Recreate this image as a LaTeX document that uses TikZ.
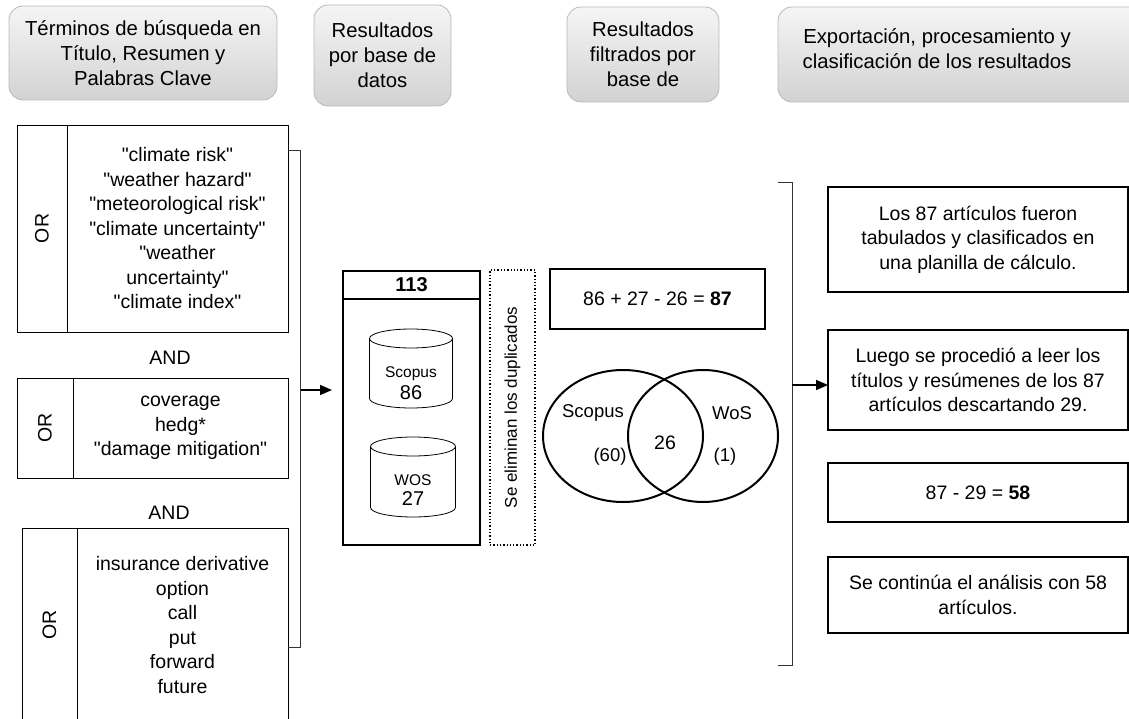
\documentclass[tikz,border=0pt]{standalone}
\usepackage{fontspec}
\usepackage{graphicx}
\setmainfont{Liberation Sans}
\usetikzlibrary{arrows.meta,shapes.geometric}
\newcommand\qq{\textquotedbl}
\begin{document}
\begin{tikzpicture}[x=1pt,y=1pt,
  base/.style={font=\fontsize{19.5}{24.5}\selectfont, align=center, inner sep=0pt, outer sep=0pt},
  header/.style={base, font=\fontsize{20.3}{25}\selectfont, draw=gray!55, rounded corners=14pt, top color=gray!8, bottom color=gray!35, line width=0.8pt},
  thinbox/.style={base, draw=black, line width=0.8pt},
  rbox/.style={base, draw=black, line width=1.3pt, minimum width=300},
  bracketline/.style={draw=black!80, line width=0.9pt},
  arr/.style={line width=1.6pt, -{Triangle[length=12pt,width=10pt]}},
  small/.style={base, font=\fontsize{15.5}{17}\selectfont},
  big/.style={base, font=\fontsize{20}{22}\selectfont},
  venntext/.style={base, font=\fontsize{18.5}{20}\selectfont}
]
\useasboundingbox (0,0) rectangle (1129,-719);
\clip (0,0) rectangle (1129,-719);

% headers
\node[header, minimum width=268, minimum height=94] (h1) at (143,-53) {Términos de búsqueda en\\Título, Resumen y\\Palabras Clave};
\node[header, minimum width=137, minimum height=101] (h2) at (382.5,-55.5) {Resultados\\por base de\\datos};
\node[header, minimum width=152, minimum height=95] (h3) at (643,-54.5) {Resultados\\filtrados por\\base de};
\node[header, minimum width=390, minimum height=95, anchor=west] (h4) at (778,-54.5) {};
\node[base, font=\fontsize{20.3}{25}\selectfont] (h4t) at (937,-49) {Exportación, procesamiento y\\clasificación de los resultados};

% left search-term boxes
\node[thinbox, minimum width=50, minimum height=207] (or1) at (42,-228.5) {\rotatebox{90}{OR}};
\node[thinbox, minimum width=221, minimum height=207] (t1) at (177.5,-228.5) {\qq climate risk\qq\\\qq weather hazard\qq\\\qq meteorological risk\qq\\\qq climate uncertainty\qq\\\qq weather\\uncertainty\qq\\\qq climate index\qq};
\node[base] (and1) at (170,-358) {AND};
\node[thinbox, minimum width=56, minimum height=100] (or2) at (45,-428) {\rotatebox{90}{OR}};
\node[thinbox, minimum width=215, minimum height=100] (t2) at (180.5,-428) {coverage\\hedg*\\\qq damage mitigation\qq};
\node[base] (and2) at (169,-513) {AND};
\node[thinbox, minimum width=55, minimum height=194] (or3) at (49.5,-625) {\rotatebox{90}{OR}};
\node[thinbox, minimum width=211, minimum height=194] (t3) at (182.5,-625) {insurance derivative\\option\\call\\put\\forward\\future};

% left bracket and arrow
\coordinate (b1t) at (300,-150);
\coordinate (b1b) at (300,-647);
\path[bracketline] (288,-150) -- (b1t) -- (b1b) -- (288,-647);
\coordinate (a1s) at (301,-390);

% middle: results per database
\node[base, draw=black, line width=2.2pt, minimum width=137, minimum height=274] (mid) at (411.5,-408) {};
\draw[line width=2.2pt] (mid.west |- 0,-299) -- (mid.east |- 0,-299);
\node[base, font=\fontsize{20}{22}\selectfont\bfseries] (n113) at (411.5,-285) {113};
\draw[arr] (a1s) -- (mid.west |- a1s) [shorten >=11pt];

\node[base, minimum width=83, minimum height=79] (scop) at (411,-368.5) {};
\draw[line width=0.8pt] ([yshift=-9.5]scop.north west) -- ([yshift=9.5]scop.south west)
  arc[start angle=180, end angle=360, x radius=41.5, y radius=9.5]
  -- ([yshift=-9.5]scop.north east)
  arc[start angle=0, end angle=180, x radius=41.5, y radius=9.5];
\draw[line width=0.8pt] ([yshift=-9.5]scop.north west) arc[start angle=180, end angle=360, x radius=41.5, y radius=9.5];
\node[small] (scopl) at (411,-374) {Scopus};
\node[big] (scopn) at (411,-393) {86};

\node[base, minimum width=85, minimum height=80] (wos) at (413,-477) {};
\draw[line width=0.8pt] ([yshift=-9.5]wos.north west) -- ([yshift=9.5]wos.south west)
  arc[start angle=180, end angle=360, x radius=42.5, y radius=9.5]
  -- ([yshift=-9.5]wos.north east)
  arc[start angle=0, end angle=180, x radius=42.5, y radius=9.5];
\draw[line width=0.8pt] ([yshift=-9.5]wos.north west) arc[start angle=180, end angle=360, x radius=42.5, y radius=9.5];
\node[small] (wosl) at (413,-480) {WOS};
\node[big] (wosn) at (413,-499) {27};

\node[base, draw=black, dotted, line width=1.3pt, minimum width=45, minimum height=275] (dup) at (512.5,-407.5) {};
\node[base, font=\fontsize{17}{19}\selectfont] (dupt) at (512.5,-407.5) {\rotatebox{90}{Se eliminan los duplicados}};

% filtered results
\node[base, draw=black, line width=1.2pt, minimum width=215, minimum height=60] (eq) at (657.5,-299) {86 + 27 - 26 = \textbf{87}};
\node[ellipse, draw=black, line width=2pt, minimum width=160, minimum height=132, inner sep=0pt] (vl) at (623,-436) {};
\node[ellipse, draw=black, line width=2pt, minimum width=150, minimum height=132, inner sep=0pt] (vr) at (703,-436) {};
\node[venntext] (vls) at (593,-413) {Scopus};
\node[venntext] (vln) at (610,-457) {(60)};
\node[venntext, font=\fontsize{19.5}{21}\selectfont] (vc) at (665,-443) {26};
\node[venntext] (vrs) at (732,-413) {WoS};
\node[venntext] (vrn) at (725,-457) {(1)};

% right bracket
\coordinate (b2t) at (792,-182);
\coordinate (b2b) at (792,-665);
\path[bracketline] (778,-182) -- (b2t) -- (b2b) -- (778,-665);
\coordinate (a2s) at (792,-385);

% right boxes
\node[rbox, minimum height=105] (r1) at (978,-239.5) {Los 87 artículos fueron\\tabulados y clasificados en\\una planilla de cálculo.};
\node[rbox, minimum height=100] (r2) at (978,-380) {Luego se procedió a leer los\\títulos y resúmenes de los 87\\artículos descartando 29.};
\node[rbox, minimum height=59] (r3) at (978,-492.5) {87 - 29 = \textbf{58}};
\node[rbox, minimum height=76] (r4) at (978,-595) {Se continúa el análisis con 58\\artículos.};
\draw[arr] (a2s) -- (r2.west |- a2s);
\end{tikzpicture}
\end{document}
